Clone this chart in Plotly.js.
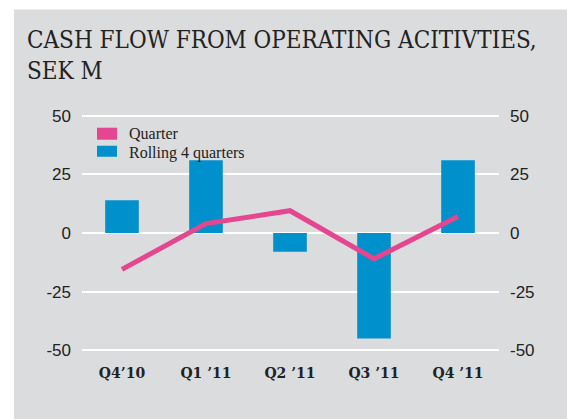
<!DOCTYPE html>
<html><head><meta charset="utf-8">
<script src="https://cdn.plot.ly/plotly-3.0.1.min.js"></script>
<style>html,body{margin:0;padding:0;background:#fff}#chart{width:567px;height:419px}</style>
</head><body><div id="chart"></div>
<script>
// ---- data ----
const categories = ["Q4\u201910", "Q1 \u201911", "Q2 \u201911", "Q3 \u201911", "Q4 \u201911"];
const rolling4Quarters = [14, 31, -8, -45, 31];
const quarter = [-15.5, 4, 9.5, -11, 7];
const seriesNames = ["Quarter", "Rolling 4 quarters"];
const yTickVals = [50, 25, 0, -25, -50];
const yTickText = ["50", "25", "0", "-25", "-50"];
const titleText = "CASH FLOW FROM OPERATING ACITIVTIES,<br>SEK M";

// ---- styling / geometry ----
const W = 567, H = 419;
const L = 82, R = 499, T = 111.3, B = 355;
const px = x => (x - L) / (R - L);
const py = y => (B - y) / (B - T);
const PINK = "#e4468f", BLUE = "#0090cb", GREY = "#dbdcde";

const traces = [
  {type: "bar", x: categories, y: rolling4Quarters, name: seriesNames[1],
   marker: {color: BLUE, line: {width: 0}}, width: 0.4, showlegend: false, hoverinfo: "skip"},
  {type: "scatter", mode: "lines", x: categories, y: quarter, name: seriesNames[0],
   line: {color: PINK, width: 5, shape: "linear"}, showlegend: false, hoverinfo: "skip"},
  {type: "scatter", mode: "none", x: [categories[0]], y: [0], yaxis: "y2", showlegend: false, hoverinfo: "skip"}
];

const axisFont = {family: "Liberation Sans, Arial, sans-serif", size: 17, color: "#222"};
const legendFont = {family: "Liberation Serif, serif", size: 16, color: "#222"};
const layout = {
  width: W, height: H,
  margin: {l: L, r: W - R, t: T, b: H - B, pad: 0},
  paper_bgcolor: "#ffffff",
  plot_bgcolor: "rgba(0,0,0,0)",
  barmode: "overlay",
  showlegend: false,
  title: {text: titleText, xref: "container", yref: "container", x: 27 / W, xanchor: "left",
          y: 1 - 48 / H, yanchor: "top",
          font: {family: "DejaVu Serif Condensed, DejaVu Serif, serif", size: 24, color: "#222"}},
  xaxis: {type: "category", range: [-0.476, 4.488], showgrid: false, zeroline: false, showline: false,
          ticks: "", ticklabelstandoff: 8,
          tickfont: {family: "DejaVu Serif, serif", size: 14, color: "#222", weight: "bold"}},
  yaxis: {range: [-52, 52], tickvals: yTickVals, ticktext: yTickText, showgrid: true,
          gridcolor: "#ffffff", gridwidth: 2, zeroline: true, zerolinecolor: "#ffffff", zerolinewidth: 2,
          showline: false, ticks: "", ticklabelstandoff: 10, tickfont: axisFont},
  yaxis2: {range: [-52, 52], overlaying: "y", side: "right", tickvals: yTickVals, ticktext: yTickText,
           showgrid: false, zeroline: false, showline: false, ticks: "", ticklabelstandoff: 10, tickfont: axisFont},
  shapes: [
    {type: "rect", xref: "paper", yref: "paper", layer: "below",
     x0: px(14), x1: px(W + 2), y0: py(H + 2), y1: py(10), fillcolor: GREY, line: {width: 0}},
    {type: "rect", xref: "paper", yref: "paper", x0: px(97), x1: px(117), y0: py(140), y1: py(128),
     fillcolor: PINK, line: {width: 0}},
    {type: "rect", xref: "paper", yref: "paper", x0: px(97), x1: px(117), y0: py(157), y1: py(146),
     fillcolor: BLUE, line: {width: 0}}
  ],
  annotations: [
    {xref: "paper", yref: "paper", x: px(128), y: py(133.5), xanchor: "left", yanchor: "middle",
     text: seriesNames[0], showarrow: false, borderpad: 0, font: legendFont},
    {xref: "paper", yref: "paper", x: px(128), y: py(153), xanchor: "left", yanchor: "middle",
     text: seriesNames[1], showarrow: false, borderpad: 0, font: legendFont}
  ]
};

Plotly.newPlot("chart", traces, layout, {displayModeBar: false, staticPlot: true});
</script>
</body></html>
